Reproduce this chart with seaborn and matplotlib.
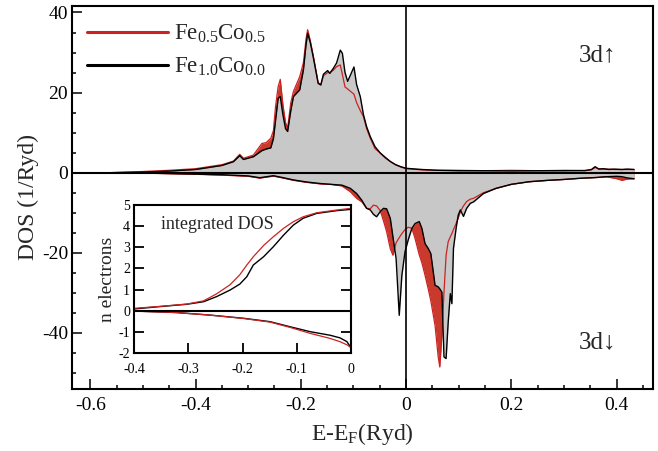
import numpy as np
import matplotlib
matplotlib.use("Agg")
import matplotlib.pyplot as plt
import seaborn as sns

# ---- spin-up 3d DOS (1/Ryd) on a shared energy grid (Ryd, relative to E_F) ----
e_up = [-0.563, -0.50, -0.45, -0.40, -0.35, -0.328, -0.316, -0.309, -0.290, -0.274,
        -0.266, -0.257, -0.252, -0.248, -0.243, -0.239, -0.234, -0.229, -0.225, -0.219,
        -0.214, -0.202, -0.195, -0.190, -0.187, -0.182, -0.176, -0.167, -0.162, -0.157,
        -0.149, -0.145, -0.138, -0.132, -0.125, -0.121, -0.116, -0.111, -0.099, -0.094,
        -0.087, -0.081, -0.075, -0.068, -0.059, -0.049, -0.040, -0.030, -0.020, -0.010,
        0.0, 0.03, 0.06, 0.10, 0.15, 0.20, 0.25, 0.30, 0.34, 0.352,
        0.359, 0.366, 0.375, 0.385, 0.395, 0.41, 0.42, 0.433]
up_fe10 = [0.0, 0.15, 0.4, 0.8, 1.8, 2.75, 4.25, 3.3, 4.0, 5.5,
           5.9, 6.2, 8.5, 13.0, 18.6, 19.0, 14.5, 11.0, 10.3, 15.5,
           19.0, 20.7, 25.7, 32.0, 34.8, 32.5, 28.6, 22.3, 21.9, 24.6,
           25.5, 24.8, 26.1, 27.4, 30.6, 29.8, 25.0, 22.8, 26.4, 22.0,
           19.0, 14.5, 11.5, 9.0, 6.5, 4.9, 3.9, 2.8, 2.0, 1.5,
           1.1, 0.8, 0.6, 0.5, 0.5, 0.45, 0.5, 0.5, 0.55, 0.8,
           1.5, 0.9, 1.0, 0.8, 0.9, 0.8, 0.9, 0.8]
up_fe05 = [0.0, 0.3, 0.6, 1.0, 2.0, 2.9, 4.6, 3.6, 4.4, 7.3,
           7.5, 8.6, 10.5, 16.5, 21.5, 23.3, 17.0, 12.5, 11.2, 17.5,
           20.3, 24.0, 27.5, 33.5, 35.7, 33.0, 29.0, 22.5, 22.0, 24.2,
           25.0, 25.0, 25.6, 26.5, 26.9, 24.5, 21.4, 20.9, 19.6, 17.5,
           15.5, 14.0, 11.0, 8.6, 6.0, 4.9, 3.7, 2.8, 2.0, 1.4,
           1.0, 0.7, 0.6, 0.6, 0.5, 0.6, 0.5, 0.6, 0.5, 0.7,
           1.3, 1.0, 0.9, 0.9, 0.8, 0.8, 0.8, 0.8]

# ---- spin-down 3d DOS (plotted as negative values) ----
e_dn = [-0.563, -0.50, -0.45, -0.40, -0.35, -0.30, -0.278, -0.265, -0.252, -0.235,
        -0.214, -0.19, -0.163, -0.144, -0.122, -0.106, -0.094, -0.084, -0.075, -0.068,
        -0.062, -0.056, -0.049, -0.043, -0.037, -0.030, -0.025, -0.019, -0.013, -0.008,
        -0.002, 0.004, 0.011, 0.017, 0.025, 0.030, 0.036, 0.042, 0.047, 0.055,
        0.061, 0.064, 0.068, 0.072, 0.076, 0.080, 0.084, 0.087, 0.090, 0.095,
        0.099, 0.103, 0.109, 0.115, 0.122, 0.128, 0.147, 0.171, 0.20, 0.234,
        0.27, 0.298, 0.33, 0.361, 0.38, 0.40, 0.41, 0.42, 0.433]
dn_fe10 = [0.0, -0.1, -0.2, -0.35, -0.5, -0.8, -1.25, -1.0, -0.75, -1.2,
           -1.8, -2.3, -2.7, -2.9, -3.1, -3.9, -5.2, -6.9, -8.9, -9.3,
           -10.4, -11.0, -9.7, -8.9, -9.0, -11.4, -16.0, -21.4, -35.6, -25.6,
           -19.7, -16.8, -13.9, -12.7, -12.2, -13.9, -17.7, -18.9, -20.2, -28.1,
           -28.5, -29.0, -29.8, -46.0, -46.4, -37.3, -30.2, -32.7, -18.9, -13.9,
           -10.6, -9.3, -10.9, -8.9, -7.65, -7.3, -5.2, -3.9, -2.9, -2.25,
           -1.9, -1.7, -1.4, -1.2, -1.0, -0.9, -1.0, -1.3, -1.5]
dn_fe05 = [0.0, -0.1, -0.25, -0.4, -0.6, -0.9, -1.35, -1.1, -0.85, -1.3,
           -1.9, -2.4, -2.8, -2.9, -3.3, -4.75, -6.4, -7.3, -8.9, -9.0,
           -8.1, -8.3, -9.5, -12.0, -14.7, -19.0, -20.6, -17.5, -16.2, -15.2,
           -14.2, -13.6, -13.9, -16.4, -20.5, -22.5, -25.6, -29.0, -32.0, -38.1,
           -46.0, -48.5, -40.6, -29.8, -20.6, -17.2, -16.0, -15.2, -14.2, -12.7,
           -11.3, -9.7, -8.3, -7.2, -6.6, -6.4, -5.0, -3.9, -2.9, -2.25,
           -1.9, -1.7, -1.4, -1.2, -1.0, -1.5, -1.9, -1.6, -1.5]

# ---- integrated DOS (number of electrons) ----
ie_up = [-0.4, -0.353, -0.303, -0.272, -0.248, -0.223, -0.205, -0.192, -0.180,
         -0.161, -0.143, -0.124, -0.106, -0.088, -0.063, -0.026, 0.0]
n_up_fe10 = [0.09, 0.20, 0.31, 0.43, 0.67, 0.98, 1.26, 1.61, 2.16,
             2.55, 3.02, 3.57, 4.04, 4.36, 4.59, 4.72, 4.78]
n_up_fe05 = [0.12, 0.21, 0.32, 0.47, 0.80, 1.23, 1.70, 2.16, 2.55,
             3.08, 3.49, 3.89, 4.20, 4.43, 4.62, 4.75, 4.83]
ie_dn = [-0.4, -0.322, -0.260, -0.198, -0.149, -0.112, -0.075, -0.038, -0.020, -0.007, 0.0]
n_dn_fe10 = [-0.01, -0.08, -0.20, -0.35, -0.51, -0.75, -0.98, -1.15, -1.27, -1.45, -1.72]
n_dn_fe05 = [-0.01, -0.08, -0.20, -0.36, -0.53, -0.78, -1.06, -1.30, -1.45, -1.60, -1.72]

labels = [r"Fe$_{\mathrm{0.5}}$Co$_{\mathrm{0.5}}$", r"Fe$_{\mathrm{1.0}}$Co$_{\mathrm{0.0}}$"]
main_xticks = [-0.6, -0.4, -0.2, 0.0, 0.2, 0.4]
main_xticklabels = ["-0.6", "-0.4", "-0.2", "0", "0.2", "0.4"]
main_yticks = [40, 20, 0, -20, -40]
inset_xticks = [-0.4, -0.3, -0.2, -0.1, 0.0]
inset_xticklabels = ["-0.4", "-0.3", "-0.2", "-0.1", "0"]
inset_yticks = [-2, -1, 0, 1, 2, 3, 4, 5]

RED_LINE = "#cc2222"
RED_FILL = "#c93a2c"
GRAY_FILL = "#c8c8c8"

sns.set_theme(style="ticks")
plt.rcParams.update({
    "font.family": ["Liberation Serif", "DejaVu Serif"],
    "mathtext.fontset": "custom",
    "mathtext.rm": "Liberation Serif",
    "mathtext.it": "Liberation Serif:italic",
    "axes.unicode_minus": False,
    "axes.linewidth": 1.5,
    "axes.edgecolor": "black",
    "xtick.color": "black",
    "ytick.color": "black",
})

fig = plt.figure(figsize=(6.58, 4.51), dpi=100)
ax = fig.add_axes([0.1099, 0.1375, 0.8825, 0.8499])

# filled DOS: alloy underneath, pure Fe on top
ax.fill_between(e_up, 0, up_fe05, color=RED_FILL, lw=0, zorder=1)
ax.fill_between(e_dn, 0, dn_fe05, color=RED_FILL, lw=0, zorder=1)
ax.fill_between(e_up, 0, up_fe10, color=GRAY_FILL, lw=0, zorder=2)
ax.fill_between(e_dn, 0, dn_fe10, color=GRAY_FILL, lw=0, zorder=2)

sns.lineplot(x=e_up, y=up_fe05, ax=ax, color=RED_LINE, lw=0.9, estimator=None,
             sort=False, label=labels[0], zorder=3)
sns.lineplot(x=e_dn, y=dn_fe05, ax=ax, color=RED_LINE, lw=0.9, estimator=None,
             sort=False, zorder=3)
sns.lineplot(x=e_up, y=up_fe10, ax=ax, color="black", lw=1.0, estimator=None,
             sort=False, label=labels[1], zorder=4)
sns.lineplot(x=e_dn, y=dn_fe10, ax=ax, color="black", lw=1.0, estimator=None,
             sort=False, zorder=4)

ax.axhline(0, color="black", lw=1.5, zorder=5)
ax.axvline(0, color="black", lw=1.2, zorder=5)

ax.set_xlim(-0.634, 0.469)
ax.set_ylim(-54, 41.7)
ax.set_xticks(main_xticks)
ax.set_xticklabels(main_xticklabels)
ax.set_yticks(main_yticks)
ax.set_xticks(np.arange(-0.6, 0.46, 0.05), minor=True)
ax.set_yticks(np.arange(-50, 41, 5), minor=True)
ax.tick_params(which="both", direction="in", top=False, right=False, width=1.1)
ax.tick_params(which="major", length=7, labelsize=14)
ax.tick_params(which="minor", length=3.2)
ax.tick_params(axis="x", pad=6)
ax.tick_params(axis="y", pad=3)
ax.set_xlabel(r"E-E$_{\mathrm{F}}$(Ryd)", fontsize=17, labelpad=5)
ax.set_ylabel("DOS (1/Ryd)", fontsize=17, labelpad=2)

ax.text(0.363, 29.4, "3d\u2191", ha="center", va="center", fontsize=18)
ax.text(0.363, -42.3, "3d\u2193", ha="center", va="center", fontsize=18)

leg = ax.legend(loc="upper left", bbox_to_anchor=(0.026, 0.956), frameon=False,
                fontsize=16.5, handlelength=3.5, handletextpad=0.26,
                labelspacing=0.48, borderaxespad=0, borderpad=0)
for ln in leg.get_lines():
    ln.set_linewidth(2.2)

# ---- inset: integrated DOS ----
ins = fig.add_axes([0.2041, 0.2166, 0.3289, 0.3295])
ins.set_facecolor("white")
sns.lineplot(x=ie_up, y=n_up_fe10, ax=ins, color="black", lw=1.0, estimator=None, sort=False)
sns.lineplot(x=ie_dn, y=n_dn_fe10, ax=ins, color="black", lw=1.0, estimator=None, sort=False)
sns.lineplot(x=ie_up, y=n_up_fe05, ax=ins, color=RED_LINE, lw=0.9, estimator=None, sort=False)
sns.lineplot(x=ie_dn, y=n_dn_fe05, ax=ins, color=RED_LINE, lw=0.9, estimator=None, sort=False)
ins.axhline(0, color="black", lw=1.5)
ins.set_xlim(-0.4, 0.0)
ins.set_ylim(-2, 5)
ins.set_xticks(inset_xticks)
ins.set_xticklabels(inset_xticklabels)
ins.set_yticks(inset_yticks)
ins.tick_params(which="both", direction="in", left=True, right=True, top=False,
                width=1.3, length=7, labelsize=10, pad=3)
ins.tick_params(axis="x", pad=7)
ins.set_ylabel("n electrons", fontsize=14, labelpad=2)
ins.text(-0.351, 3.86, "integrated DOS", fontsize=13, va="baseline", ha="left")

fig.savefig("out.png", dpi=100)
